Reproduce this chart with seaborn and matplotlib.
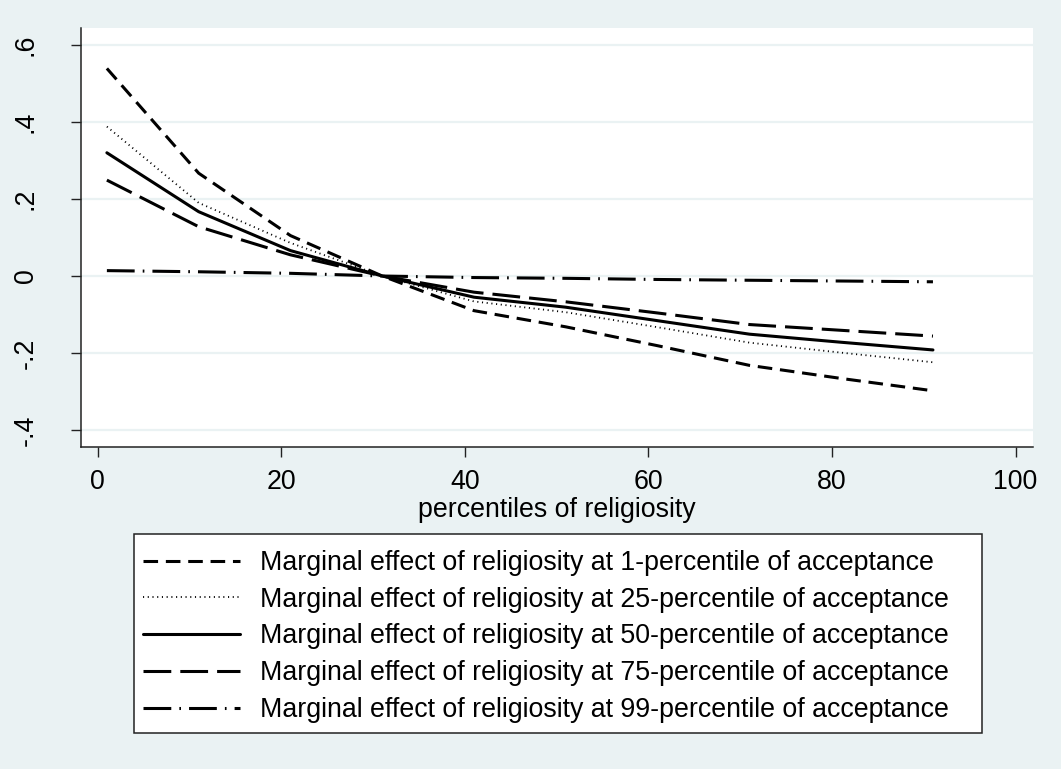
import numpy as np
import pandas as pd
import seaborn as sns
import matplotlib.pyplot as plt
from matplotlib.patches import Rectangle

# percentiles of religiosity (x) and marginal effects
pct = [1, 11, 21, 31, 41, 51, 61, 71, 81, 91]
me_p1 = [0.539, 0.267, 0.105, 0.0, -0.090, -0.132, -0.181, -0.232, -0.266, -0.298]
me_p25 = [0.388, 0.190, 0.086, 0.0, -0.066, -0.094, -0.133, -0.173, -0.199, -0.224]
me_p50 = [0.320, 0.167, 0.066, 0.0, -0.055, -0.081, -0.116, -0.151, -0.172, -0.192]
me_p75 = [0.249, 0.128, 0.055, 0.0, -0.042, -0.067, -0.096, -0.126, -0.141, -0.156]
me_p99 = [0.014, 0.011, 0.007, 0.0, -0.004, -0.006, -0.009, -0.011, -0.013, -0.015]

labels = [
    "Marginal effect of religiosity at 1-percentile of acceptance",
    "Marginal effect of religiosity at 25-percentile of acceptance",
    "Marginal effect of religiosity at 50-percentile of acceptance",
    "Marginal effect of religiosity at 75-percentile of acceptance",
    "Marginal effect of religiosity at 99-percentile of acceptance",
]
xticks = [0, 20, 40, 60, 80, 100]
yticks = [-0.4, -0.2, 0, 0.2, 0.4, 0.6]
ytick_labels = ["-.4", "-.2", "0", ".2", ".4", ".6"]

bg = "#EAF2F3"
fs = 19.3
sns.set_style("white")
plt.rcParams["font.family"] = ["Liberation Sans", "DejaVu Sans"]
plt.rcParams["lines.scale_dashes"] = False
plt.rcParams["text.color"] = "black"
plt.rcParams["axes.labelcolor"] = "black"
plt.rcParams["xtick.labelcolor"] = "black"
plt.rcParams["ytick.labelcolor"] = "black"

styles = [
    dict(lw=2.2, ls=(0, (10.5, 5.6))),
    dict(lw=1.3, ls=(0, (0.8, 2.6))),
    dict(lw=2.2, ls="-"),
    dict(lw=2.2, ls=(0, (20, 6.5))),
    dict(lw=2.2, ls=(0, (20, 5.8, 1.2, 5.8))),
]

fig = plt.figure(figsize=(10.61, 7.69), dpi=100, facecolor=bg)
ax = fig.add_axes([81 / 1061, 1 - 447 / 769, 952 / 1061, 419 / 769])
ax.set_facecolor("white")

series = [me_p1, me_p25, me_p50, me_p75, me_p99]
for vals, lab, st in zip(series, labels, styles):
    df = pd.DataFrame({"pct": pct, "me": vals})
    sns.lineplot(data=df, x="pct", y="me", ax=ax, color="black",
                 label=lab, **st)

ax.set_xlim(-1.82, 101.9)
ax.set_ylim(-0.444, 0.644)
ax.set_xticks(xticks)
ax.set_yticks(yticks)
ax.set_yticklabels(ytick_labels, rotation=90, va="center")
ax.grid(axis="y", color=bg, lw=1.6)
ax.grid(axis="x", visible=False)
ax.set_axisbelow(True)

for side in ["top", "right"]:
    ax.spines[side].set_visible(False)
for side in ["left", "bottom"]:
    ax.spines[side].set_color("#222222")
    ax.spines[side].set_linewidth(1.1)

ax.tick_params(axis="both", which="major", direction="out", length=7.5,
               width=1.0, color="#222222", labelsize=fs, labelcolor="black",
               bottom=True, left=True)
ax.tick_params(axis="x", pad=8)
ax.tick_params(axis="y", pad=23)
ax.set_xlabel("percentiles of religiosity", fontsize=fs, labelpad=1.5,
              color="black")
ax.set_ylabel("")

ax.get_legend().remove()
handles, labs = ax.get_legend_handles_labels()
leg = fig.legend(handles, labs, loc="upper left",
                 bbox_to_anchor=(143 / 1061, 1 - 550 / 769),
                 frameon=False, fontsize=fs, handlelength=3.62,
                 handletextpad=0.75, labelspacing=0.4, borderpad=0,
                 borderaxespad=0)
for t in leg.get_texts():
    t.set_color("black")
fig.patches.append(Rectangle((134 / 1061, 1 - 733 / 769), 848 / 1061,
                             199 / 769, transform=fig.transFigure,
                             facecolor="white", edgecolor="#222222",
                             lw=1.1, zorder=0))

fig.savefig("out.png", dpi=100, facecolor=bg)
